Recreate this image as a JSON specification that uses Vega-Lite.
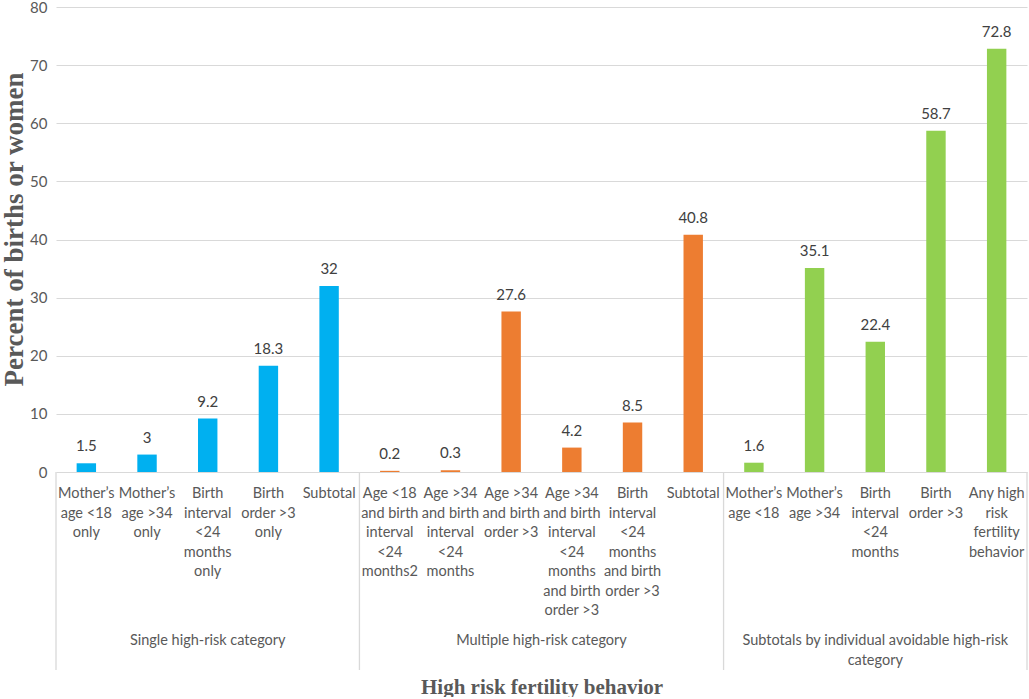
{
  "$schema": "https://vega.github.io/schema/vega-lite/v6.json",
  "autosize": {"type": "pad"},
  "padding": {"left": 0, "top": 0, "right": 2, "bottom": 0},
  "background": "white",
  "datasets": {
    "bars": [
      {"id": "c01", "label": "Mother’s\nage <18\nonly", "group": "Single high-risk category", "value": 1.5},
      {"id": "c02", "label": "Mother’s\nage >34\nonly", "group": "Single high-risk category", "value": 3},
      {"id": "c03", "label": "Birth\ninterval\n<24\nmonths\nonly", "group": "Single high-risk category", "value": 9.2},
      {"id": "c04", "label": "Birth\norder >3\nonly", "group": "Single high-risk category", "value": 18.3},
      {"id": "c05", "label": "Subtotal", "group": "Single high-risk category", "value": 32},
      {"id": "c06", "label": "Age <18\nand birth\ninterval\n<24\nmonths2", "group": "Multiple high-risk category", "value": 0.2},
      {"id": "c07", "label": "Age >34\nand birth\ninterval\n<24\nmonths", "group": "Multiple high-risk category", "value": 0.3},
      {"id": "c08", "label": "Age >34\nand birth\norder >3", "group": "Multiple high-risk category", "value": 27.6},
      {"id": "c09", "label": "Age >34\nand birth\ninterval\n<24\nmonths\nand birth\norder >3", "group": "Multiple high-risk category", "value": 4.2},
      {"id": "c10", "label": "Birth\ninterval\n<24\nmonths\nand birth\norder >3", "group": "Multiple high-risk category", "value": 8.5},
      {"id": "c11", "label": "Subtotal", "group": "Multiple high-risk category", "value": 40.8},
      {"id": "c12", "label": "Mother’s\nage <18", "group": "Subtotals by individual avoidable high-risk category", "value": 1.6},
      {"id": "c13", "label": "Mother’s\nage >34", "group": "Subtotals by individual avoidable high-risk category", "value": 35.1},
      {"id": "c14", "label": "Birth\ninterval\n<24\nmonths", "group": "Subtotals by individual avoidable high-risk category", "value": 22.4},
      {"id": "c15", "label": "Birth\norder >3", "group": "Subtotals by individual avoidable high-risk category", "value": 58.7},
      {"id": "c16", "label": "Any high\nrisk\nfertility\nbehavior", "group": "Subtotals by individual avoidable high-risk category", "value": 72.8}
    ],
    "groupStarts": [{"id": "c01"}, {"id": "c06"}, {"id": "c12"}],
    "groupEnds": [{"id": "c16"}],
    "groupsMid": [
      {"id": "c03", "text": "Single high-risk category"},
      {"id": "c14", "text": "Subtotals by individual avoidable high-risk\ncategory"}
    ],
    "groupsEdge": [{"id": "c09", "text": "Multiple high-risk category"}]
  },
  "bounds": "flush",
  "spacing": 0,
  "vconcat": [
    {
      "width": 971,
      "height": 465,
      "data": {"name": "bars"},
      "encoding": {
        "x": {
          "field": "id",
          "type": "nominal",
          "sort": null,
          "scale": {"paddingInner": 0.68, "paddingOuter": 0.34},
          "axis": null
        },
        "y": {
          "field": "value",
          "type": "quantitative",
          "scale": {"domain": [0, 80]},
          "axis": {
            "values": [0, 10, 20, 30, 40, 50, 60, 70, 80],
            "title": "Percent of births or women",
            "titleFont": "Liberation Serif",
            "titleFontSize": 27,
            "titleFontWeight": "bold",
            "titleColor": "#595959",
            "titlePadding": 1,
            "titleY": 222,
            "labelFont": "Lato",
            "labelFontSize": 15,
            "labelColor": "#595959",
            "labelPadding": 9,
            "domain": false,
            "ticks": false,
            "gridColor": "#D9D9D9",
            "gridWidth": 1
          }
        }
      },
      "layer": [
        {
          "mark": {"type": "bar"},
          "encoding": {
            "color": {
              "field": "group",
              "type": "nominal",
              "scale": {
                "domain": ["Single high-risk category", "Multiple high-risk category", "Subtotals by individual avoidable high-risk category"],
                "range": ["#00B0F0", "#ED7D31", "#92D050"]
              },
              "legend": null
            }
          }
        },
        {
          "mark": {"type": "text", "baseline": "bottom", "dy": -9, "font": "Lato", "fontSize": 15, "color": "#404040"},
          "encoding": {"text": {"field": "value", "type": "quantitative"}}
        }
      ]
    },
    {
      "width": 971,
      "height": 198,
      "encoding": {
        "x": {
          "field": "id",
          "type": "nominal",
          "sort": null,
          "scale": {"paddingInner": 0, "paddingOuter": 0, "domain": ["c01", "c02", "c03", "c04", "c05", "c06", "c07", "c08", "c09", "c10", "c11", "c12", "c13", "c14", "c15", "c16"]},
          "axis": {
            "labels": false,
            "ticks": false,
            "domain": false,
            "title": "High risk fertility behavior",
            "titleFont": "Liberation Serif",
            "titleFontSize": 21,
            "titleFontWeight": "bold",
            "titleColor": "#595959",
            "titlePadding": 6
          }
        }
      },
      "layer": [
        {
          "data": {"name": "groupStarts"},
          "mark": {"type": "rule", "color": "#D9D9D9", "strokeWidth": 1.3},
          "encoding": {"x": {"field": "id", "type": "nominal", "bandPosition": 0}}
        },
        {
          "data": {"name": "groupEnds"},
          "mark": {"type": "rule", "color": "#D9D9D9", "strokeWidth": 1.3},
          "encoding": {"x": {"field": "id", "type": "nominal", "bandPosition": 1}}
        },
        {
          "data": {"name": "bars"},
          "mark": {"type": "text", "baseline": "top", "dy": -84, "lineBreak": "\n", "lineHeight": 19.5, "font": "Lato", "fontSize": 14.5, "color": "#595959"},
          "encoding": {
            "x": {"field": "id", "type": "nominal", "bandPosition": 0.5},
            "text": {"field": "label", "type": "nominal"}
          }
        },
        {
          "data": {"name": "groupsMid"},
          "mark": {"type": "text", "baseline": "top", "dy": 63, "lineBreak": "\n", "lineHeight": 19.5, "font": "Lato", "fontSize": 14.5, "color": "#595959"},
          "encoding": {
            "x": {"field": "id", "type": "nominal", "bandPosition": 0.5},
            "text": {"field": "text", "type": "nominal"}
          }
        },
        {
          "data": {"name": "groupsEdge"},
          "mark": {"type": "text", "baseline": "top", "dy": 63, "lineBreak": "\n", "lineHeight": 19.5, "font": "Lato", "fontSize": 14.5, "color": "#595959"},
          "encoding": {
            "x": {"field": "id", "type": "nominal", "bandPosition": 0},
            "text": {"field": "text", "type": "nominal"}
          }
        }
      ]
    }
  ],
  "config": {"view": {"stroke": null}}
}
